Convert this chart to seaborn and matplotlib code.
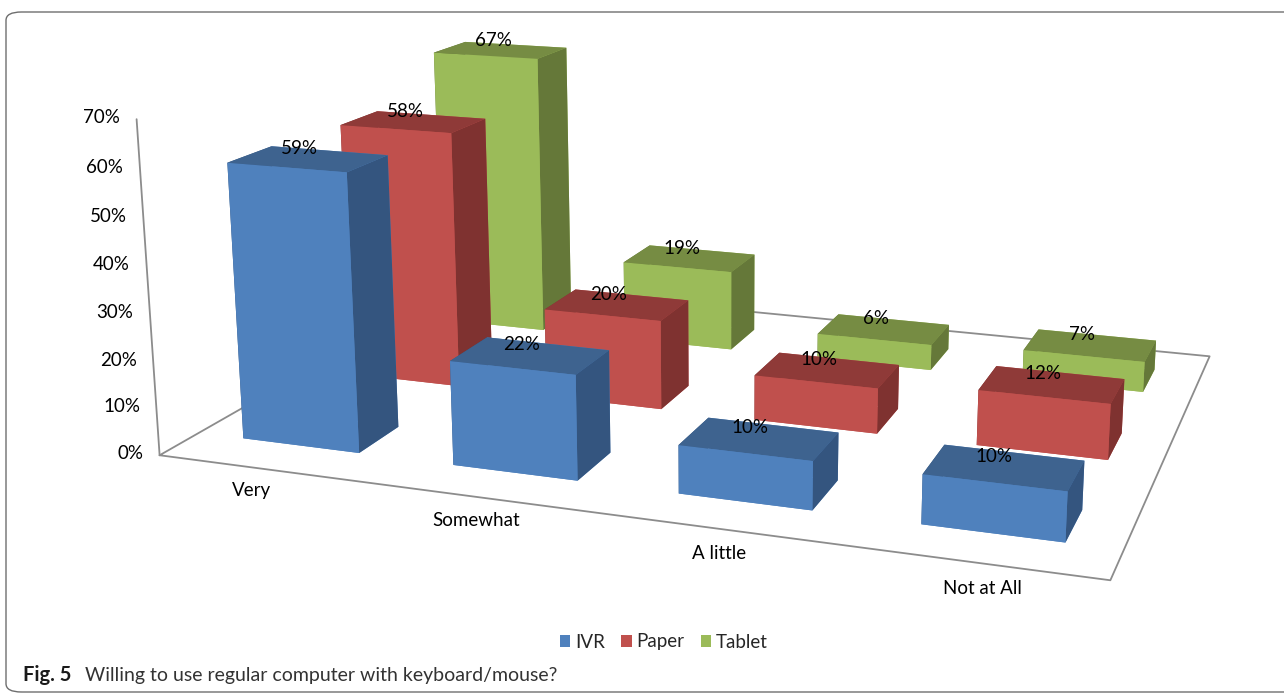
import numpy as np
import matplotlib
matplotlib.use("Agg")
import matplotlib.pyplot as plt
from matplotlib.patches import FancyBboxPatch, Patch
import seaborn as sns

categories = ["Very", "Somewhat", "A little", "Not at All"]
series_names = ["IVR", "Paper", "Tablet"]
ivr = [59, 22, 10, 10]
paper = [58, 20, 10, 12]
tablet = [67, 19, 6, 7]
z_ticks = [0, 10, 20, 30, 40, 50, 60, 70]

sns.set_theme(style="white")
plt.rcParams["font.family"] = ["Lato", "DejaVu Sans"]

palette = sns.color_palette(["#4F81BD", "#C0504D", "#9BBB59"])
top_shades = ["#3E638F", "#8F3A38", "#768C43"]
side_shades = ["#34557F", "#7F3230", "#657839"]
line_grey = "#8C8C8C"
label_size = 13.5

W, H = 1284, 693
cx, cy, S = 702, 267, 1386  # square 3D axes, in pixels from the top-left corner

fig = plt.figure(figsize=(W / 100, H / 100), dpi=100)
ax = fig.add_axes([(cx - S / 2) / W, 1 - (cy + S / 2) / H, S / W, S / H],
                  projection="3d", computed_zorder=False)
ax.patch.set_alpha(0)
ax.set_proj_type("persp", focal_length=0.29)
ax.view_init(elev=14.5, azim=-70.7, roll=0)
ax.set_box_aspect((1.0, 0.72, 0.36), zoom=0.81)
ax.set_xlim(0, 4)
ax.set_ylim(0, 3)
ax.set_zlim(0, 70)
ax.set_axis_off()

# floor outline and value axis
ax.plot([0, 4, 4, 0, 0], [0, 0, 3, 3, 0], [0, 0, 0, 0, 0], color=line_grey, lw=1.3, zorder=1)
ax.plot([0, 0], [0, 0], [0, 70], color=line_grey, lw=1.3, zorder=1)

bar_w, bar_d = 0.56, 0.37
z = 10
for s, values in reversed(list(enumerate([ivr, paper, tablet]))):
    for c, v in enumerate(values):
        faces = [palette[s], top_shades[s], palette[s], palette[s], side_shades[s], side_shades[s]]
        poly = ax.bar3d(c + 0.5 - bar_w / 2, s + 0.5 - bar_d / 2, 0, bar_w, bar_d, v,
                        color=faces, shade=False, linewidth=0)
        poly.set_zorder(z)
        z += 1
        ax.text(c + 0.46, s + 0.5, v + 0.3, f"{v}%", ha="center", va="bottom",
                fontsize=label_size, color="black", zorder=100)

for t in z_ticks:
    ax.text(-0.08, 0, t, f"{t}%", ha="right", va="center", fontsize=label_size,
            color="black", zorder=100)

for c, name in enumerate(categories):
    ax.text(c + 0.58, -0.24, 0, name, ha="center", va="center", fontsize=label_size,
            color="black", zorder=100)

handles = [Patch(facecolor=palette[i], edgecolor="none", label=series_names[i]) for i in range(3)]
fig.legend(handles=handles, loc="center", bbox_to_anchor=(664 / W, 1 - 642 / H), ncol=3,
           frameon=False, fontsize=label_size, handlelength=0.55, handleheight=0.55,
           handletextpad=0.27, columnspacing=0.85)

frame = FancyBboxPatch((6 / W, 1 - 692 / H), 1300 / W, 680 / H,
                       boxstyle="round,pad=0,rounding_size=0.012", transform=fig.transFigure,
                       facecolor="none", edgecolor="#6E6E6E", lw=1.0, clip_on=False)
fig.add_artist(frame)

cap_y = 1 - 675 / H
fig.text(23 / W, cap_y, "Fig. 5", fontsize=14.5, fontweight="bold",
         color="#1a1a1a", va="center")
fig.text(85 / W, cap_y, "Willing to use regular computer with keyboard/mouse?", fontsize=14,
         color="#333333", va="center")

fig.savefig("out.png", dpi=100)
